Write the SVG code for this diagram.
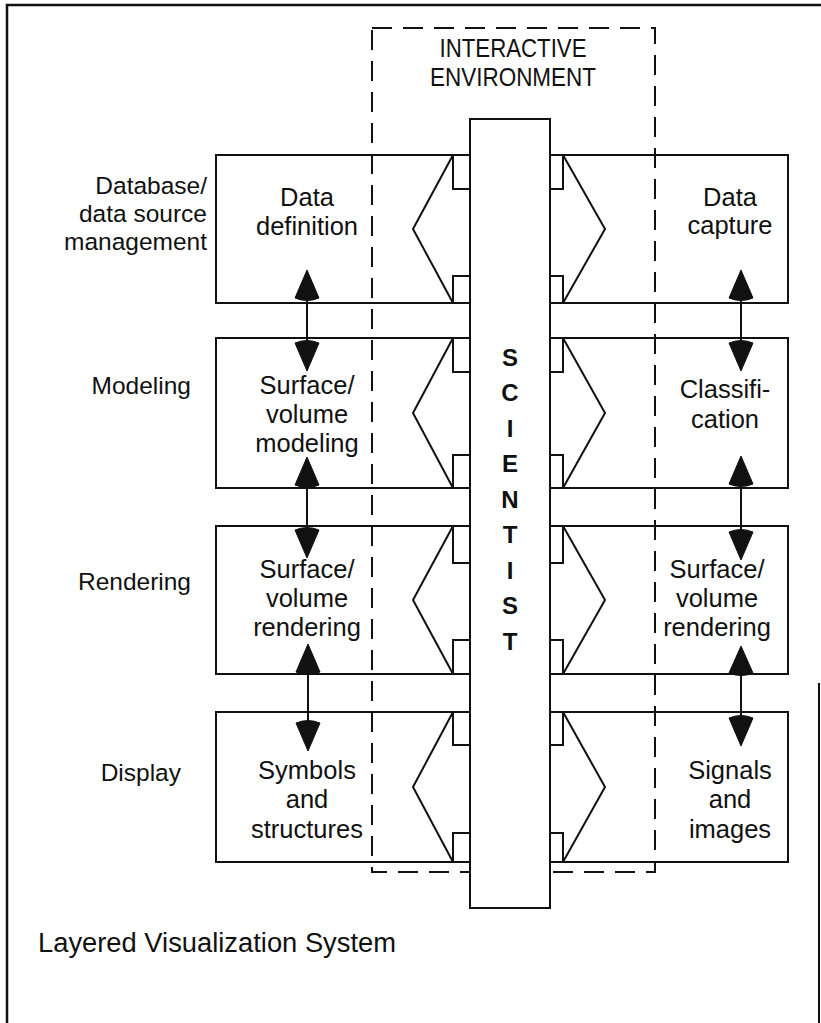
<svg xmlns="http://www.w3.org/2000/svg" width="821" height="1023" viewBox="0 0 821 1023">
<defs>
<style>
.ln{fill:none;stroke:#111;stroke-width:2;stroke-linejoin:miter}
.bx{fill:none;stroke:#111;stroke-width:2}
.sr{fill:#fff;stroke:#111;stroke-width:2}
.dash{fill:none;stroke:#111;stroke-width:2;stroke-dasharray:20 11}
.t{font-family:"Liberation Sans",Arial,sans-serif;font-size:25.5px;fill:#111;text-anchor:middle}
.lb{font-family:"Liberation Sans",Arial,sans-serif;font-size:24.5px;fill:#111;text-anchor:end}
.hd{font-family:"Liberation Sans",Arial,sans-serif;font-size:26px;fill:#111;text-anchor:middle}
.sc{font-family:"Liberation Sans",Arial,sans-serif;font-size:24px;font-weight:bold;fill:#111;text-anchor:middle}
.ah{fill:#111;stroke:#111;stroke-width:1}
.sh{stroke:#111;stroke-width:2}
</style>
</defs>
<rect width="821" height="1023" fill="#fff"/>

<g id="frame">
<path class="ln" d="M7,1023 V5 H821" style="stroke-width:2.5"/>
<path class="ln" d="M819,683 V1023"/>
</g>

<g id="interactive-environment">
<rect class="dash" x="372" y="28" width="283" height="844"/>
<text class="hd" x="513" y="57" textLength="147" lengthAdjust="spacingAndGlyphs">INTERACTIVE</text>
<text class="hd" x="513" y="86" textLength="166" lengthAdjust="spacingAndGlyphs">ENVIRONMENT</text>
</g>

<g id="layer-database">
<path class="bx" d="M470,155 H216 V303 H470"/>
<path class="bx" d="M550,155 H788 V303 H550"/>
<path class="ln" d="M453,155 L413,229 L453,303"/>
<path class="ln" d="M563,155 L605,229 L563,303"/>
<text class="lb" x="207" y="194">Database/</text>
<text class="lb" x="207" y="222">data source</text>
<text class="lb" x="207" y="250">management</text>
</g>
<g id="node-data-definition">
<text class="t" x="307" y="206">Data</text>
<text class="t" x="307" y="235">definition</text>
</g>
<g id="node-data-capture">
<text class="t" x="730" y="206">Data</text>
<text class="t" x="730" y="234">capture</text>
</g>

<g id="layer-modeling">
<path class="bx" d="M470,338 H216 V488 H470"/>
<path class="bx" d="M550,338 H788 V488 H550"/>
<path class="ln" d="M453,338 L413,413 L453,488"/>
<path class="ln" d="M563,338 L605,413 L563,488"/>
<text class="lb" x="191" y="394">Modeling</text>
</g>
<g id="node-surface-volume-modeling">
<text class="t" x="307" y="394">Surface/</text>
<text class="t" x="307" y="423">volume</text>
<text class="t" x="307" y="452">modeling</text>
</g>
<g id="node-classification">
<text class="t" x="725" y="398">Classifi-</text>
<text class="t" x="725" y="428">cation</text>
</g>

<g id="layer-rendering">
<path class="bx" d="M470,526 H216 V674 H470"/>
<path class="bx" d="M550,526 H788 V674 H550"/>
<path class="ln" d="M453,526 L413,600 L453,674"/>
<path class="ln" d="M563,526 L605,600 L563,674"/>
<text class="lb" x="191" y="590">Rendering</text>
</g>
<g id="node-surface-volume-rendering-left">
<text class="t" x="307" y="578">Surface/</text>
<text class="t" x="307" y="607">volume</text>
<text class="t" x="307" y="636">rendering</text>
</g>
<g id="node-surface-volume-rendering-right">
<text class="t" x="717" y="578">Surface/</text>
<text class="t" x="717" y="607">volume</text>
<text class="t" x="717" y="636">rendering</text>
</g>

<g id="layer-display">
<path class="bx" d="M470,712 H216 V862 H470"/>
<path class="bx" d="M550,712 H788 V862 H550"/>
<path class="ln" d="M453,712 L413,787 L453,862"/>
<path class="ln" d="M563,712 L605,787 L563,862"/>
<text class="lb" x="181" y="781">Display</text>
</g>
<g id="node-symbols-structures">
<text class="t" x="307" y="779">Symbols</text>
<text class="t" x="307" y="808">and</text>
<text class="t" x="307" y="838">structures</text>
</g>
<g id="node-signals-images">
<text class="t" x="730" y="779">Signals</text>
<text class="t" x="730" y="808">and</text>
<text class="t" x="730" y="838">images</text>
</g>

<g id="scientist">
<rect class="sr" x="470" y="119" width="80" height="789"/>
<rect class="sr" x="453" y="155" width="17" height="34"/>
<rect class="sr" x="550" y="155" width="13" height="34"/>
<rect class="sr" x="453" y="276" width="17" height="27"/>
<rect class="sr" x="453" y="338" width="17" height="34"/>
<rect class="sr" x="550" y="276" width="13" height="27"/>
<rect class="sr" x="550" y="338" width="13" height="34"/>
<rect class="sr" x="453" y="455" width="17" height="33"/>
<rect class="sr" x="453" y="526" width="17" height="37"/>
<rect class="sr" x="550" y="455" width="13" height="33"/>
<rect class="sr" x="550" y="526" width="13" height="37"/>
<rect class="sr" x="453" y="640" width="17" height="34"/>
<rect class="sr" x="453" y="712" width="17" height="33"/>
<rect class="sr" x="550" y="640" width="13" height="34"/>
<rect class="sr" x="550" y="712" width="13" height="33"/>
<rect class="sr" x="453" y="833" width="17" height="29"/>
<rect class="sr" x="550" y="833" width="13" height="29"/>
<text class="sc" x="510" y="366">S</text>
<text class="sc" x="510" y="401">C</text>
<text class="sc" x="510" y="437">I</text>
<text class="sc" x="510" y="472">E</text>
<text class="sc" x="510" y="508">N</text>
<text class="sc" x="510" y="543">T</text>
<text class="sc" x="510" y="579">I</text>
<text class="sc" x="510" y="614">S</text>
<text class="sc" x="510" y="650">T</text>
</g>

<g id="connectors">
<line class="sh" x1="307" y1="290" x2="307" y2="352"/>
<path class="ah" d="M307,270 L295,298 Q307,303 319,298 Z"/>
<path class="ah" d="M307,371 L295,343 Q307,338 319,343 Z"/>
<line class="sh" x1="741" y1="290" x2="741" y2="352"/>
<path class="ah" d="M741,270 L729,298 Q741,303 753,298 Z"/>
<path class="ah" d="M741,371 L729,343 Q741,338 753,343 Z"/>

<line class="sh" x1="307" y1="475" x2="307" y2="540"/>
<path class="ah" d="M307,457 L295,485 Q307,490 319,485 Z"/>
<path class="ah" d="M307,558 L295,530 Q307,525 319,530 Z"/>
<line class="sh" x1="741" y1="475" x2="741" y2="540"/>
<path class="ah" d="M741,456 L729,484 Q741,489 753,484 Z"/>
<path class="ah" d="M741,560 L729,532 Q741,527 753,532 Z"/>

<line class="sh" x1="308" y1="662" x2="308" y2="735"/>
<path class="ah" d="M308,644 L296,672 Q308,677 320,672 Z"/>
<path class="ah" d="M308,751 L296,723 Q308,718 320,723 Z"/>
<line class="sh" x1="741" y1="662" x2="741" y2="730"/>
<path class="ah" d="M741,646 L729,673 Q741,678 753,673 Z"/>
<path class="ah" d="M741,746 L729,718 Q741,713 753,718 Z"/>
</g>

<g id="caption">
<text x="38" y="952" textLength="358" lengthAdjust="spacingAndGlyphs" style="font-family:'Liberation Sans',Arial,sans-serif;font-size:27px;fill:#111">Layered Visualization System</text>
</g>
</svg>
